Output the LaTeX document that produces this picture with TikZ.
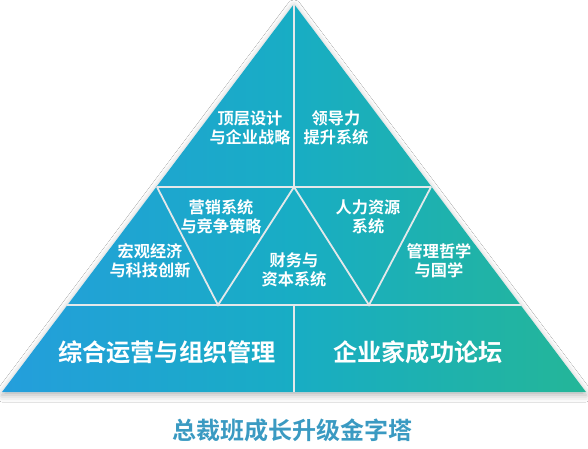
\documentclass[tikz,border=0pt]{standalone}
\usepackage{fontspec}
\newfontfamily\cjk{Noto Sans CJK SC}[BoldFont={Noto Sans CJK SC Bold}]
\usetikzlibrary{shadows.blur}
\definecolor{gl}{RGB}{36,158,220}
\definecolor{gm}{RGB}{24,173,196}
\definecolor{gr}{RGB}{36,182,152}
\definecolor{sep}{RGB}{228,232,234}
\definecolor{ttl}{RGB}{58,154,194}
\tikzset{
  lbl/.style={text=white, font=\cjk\bfseries\fontsize{16.2}{19}\selectfont, align=center, inner sep=0pt},
  biglbl/.style={text=white, font=\cjk\bfseries\fontsize{24.2}{28}\selectfont, inner sep=0pt},
  sepline/.style={draw=sep, line width=1.8pt},
}
\begin{document}
\begin{tikzpicture}[x=1pt,y=-1pt]
\useasboundingbox[fill=white] (0,0) rectangle (588,449);
% corner coordinates
\coordinate (A) at (294,4);
\coordinate (BL) at (2,392);
\coordinate (BR) at (586,392);
\coordinate (L1) at (157,187);
\coordinate (R1) at (431,187);
\coordinate (M1) at (294,187);
\coordinate (L2) at (67,305);
\coordinate (R2) at (521,305);
\coordinate (P) at (218,305);
\coordinate (Q) at (369,305);
\coordinate (M2) at (294,305);
\coordinate (MB) at (294,392);
% shadow + gradient fill
\fill[white, blur shadow={shadow xshift=0pt, shadow yshift=-3pt, shadow blur radius=7pt, shadow opacity=30}] (A) -- (BR) -- (BL) -- cycle;
\shade[left color=gl, right color=gr, middle color=gm] (A) -- (BR) -- (BL) -- cycle;
% separators
\draw[sepline] (L1) -- (R1);
\draw[sepline] (L2) -- (R2);
\draw[sepline] (A) -- (M1);
\draw[sepline] (M2) -- (MB);
\draw[sepline] (L1) -- (P) -- (M1) -- (Q) -- (R1);
% labels
\node[lbl] (t1) at (250,128) {顶层设计\\与企业战略};
\node[lbl] (t2) at (336,128) {领导力\\提升系统};
\node[lbl] (m1) at (221,217) {营销系统\\与竞争策略};
\node[lbl] (m2) at (150,261) {宏观经济\\与科技创新};
\node[lbl] (m3) at (294,270) {财务与\\资本系统};
\node[lbl] (m4) at (368,217) {人力资源\\系统};
\node[lbl] (m5) at (439,261) {管理哲学\\与国学};
\node[biglbl] (b1) at (167,352) {综合运营与组织管理};
\node[biglbl] (b2) at (418,352) {企业家成功论坛};
\node[text=ttl, font=\cjk\bfseries\fontsize{24}{28}\selectfont, inner sep=0pt] (title) at (292,430) {总裁班成长升级金字塔};
\end{tikzpicture}
\end{document}
